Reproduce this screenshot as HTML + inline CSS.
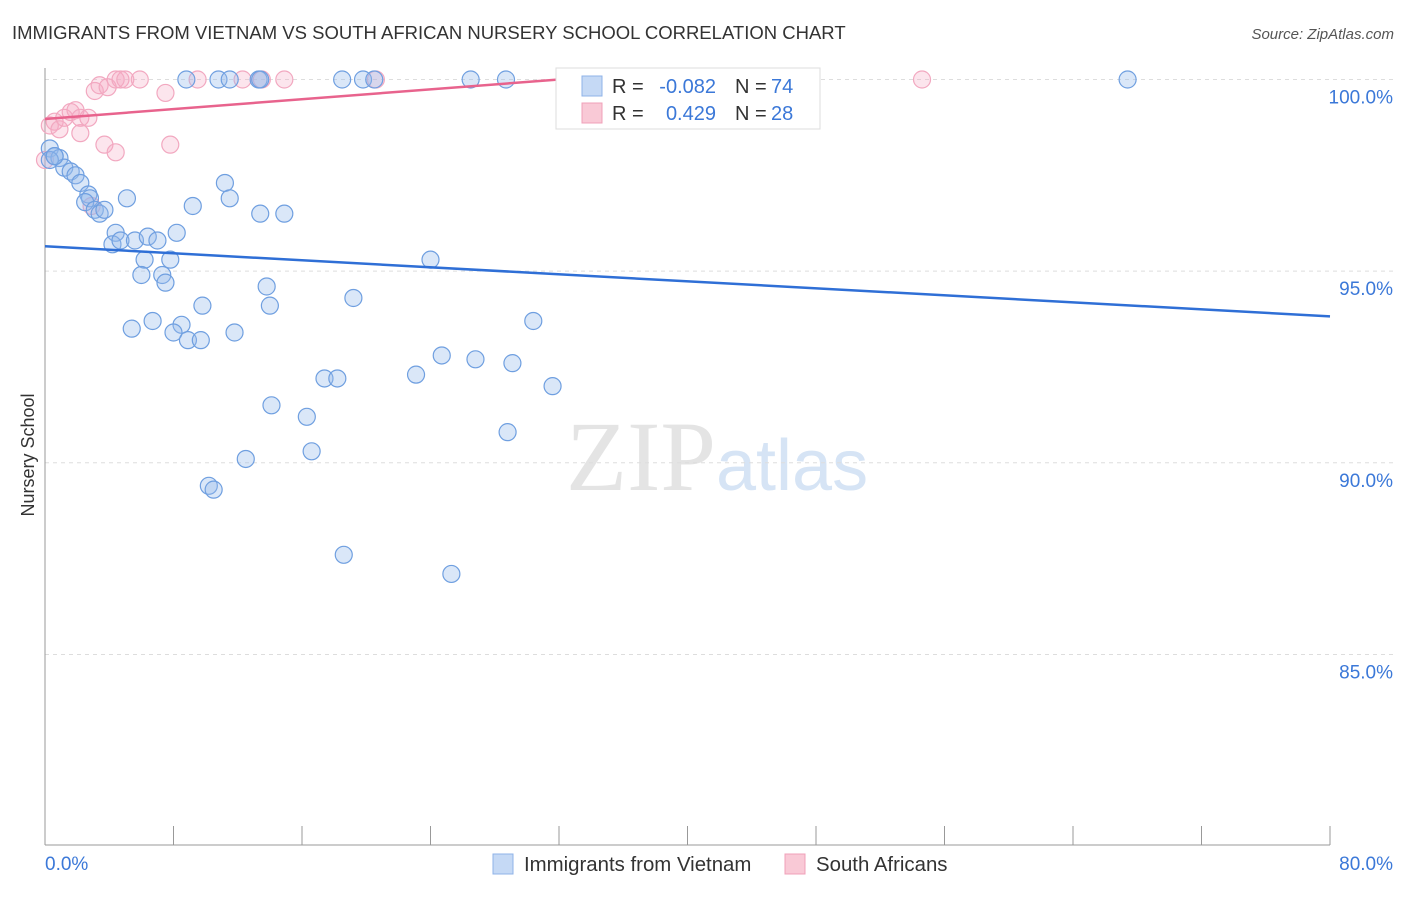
<!DOCTYPE html>
<html><head><meta charset="utf-8"><style>
body{margin:0;background:#fff;font-family:"Liberation Sans",sans-serif;}
</style></head><body>
<svg id="c" width="1406" height="892" xmlns="http://www.w3.org/2000/svg">
<text x="12" y="39" font-size="18.5" fill="#333">IMMIGRANTS FROM VIETNAM VS SOUTH AFRICAN NURSERY SCHOOL CORRELATION CHART</text>
<text x="1394" y="39" font-size="15" fill="#555" font-style="italic" text-anchor="end">Source: ZipAtlas.com</text>
<text x="716" y="490" font-size="100" fill="#e4e4e4" text-anchor="end" font-family="Liberation Serif">ZIP</text>
<text x="716" y="490" font-size="72" fill="#d6e4f5">atlas</text>
<g id="grid"></g><g id="pts"></g><g id="lines"></g>
<text transform="translate(34,455) rotate(-90)" font-size="18" fill="#333" text-anchor="middle">Nursery School</text>
<text x="45" y="870" font-size="19" fill="#3b78d8">0.0%</text>
<text x="1393" y="870" font-size="19" fill="#3b78d8" text-anchor="end">80.0%</text>
<g>
<rect x="556" y="68" width="264" height="61" fill="#fff" stroke="#ddd"/>
<rect x="582" y="76" width="20" height="20" fill="#c5d9f5" stroke="#8fb3e8"/>
<rect x="582" y="103" width="20" height="20" fill="#f9c9d6" stroke="#f0a0b8"/>
<text x="612" y="93" font-size="20" fill="#333">R =</text>
<text x="716" y="93" font-size="20" fill="#3b78d8" text-anchor="end">-0.082</text>
<text x="735" y="93" font-size="20" fill="#333">N =</text>
<text x="771" y="93" font-size="20" fill="#3b78d8">74</text>
<text x="612" y="120" font-size="20" fill="#333">R =</text>
<text x="716" y="120" font-size="20" fill="#3b78d8" text-anchor="end">0.429</text>
<text x="735" y="120" font-size="20" fill="#333">N =</text>
<text x="771" y="120" font-size="20" fill="#3b78d8">28</text>
</g>
<g>
<rect x="493" y="854" width="20" height="20" fill="#c5d9f5" stroke="#8fb3e8"/>
<text x="524" y="871" font-size="20.4" fill="#333">Immigrants from Vietnam</text>
<rect x="785" y="854" width="20" height="20" fill="#f9c9d6" stroke="#f0a0b8"/>
<text x="816" y="871" font-size="20.4" fill="#333">South Africans</text>
</g>
</svg>
<script>
const blueX=[0.3,0.6,0.9,1.2,1.6,1.9,2.2,2.7,2.8,2.5,3.1,3.4,3.7,5.1,4.4,4.2,4.7,5.6,6.4,7.0,8.2,9.2,11.2,11.5,13.4,14.9,6.2,7.8,7.3,7.5,6.0,5.4,6.7,8.5,8.0,8.9,9.7,9.8,11.8,13.8,14.0,19.2,24.0,30.4,24.7,26.8,29.1,23.1,17.4,18.2,31.6,14.1,16.3,16.6,12.5,28.8,10.2,10.5,18.6,25.3,8.8,10.8,11.5,13.3,13.4,18.5,19.8,20.5,26.5,28.7,43.2,67.4,0.3,0.6];
const blueY=[98.2,98.0,97.95,97.7,97.6,97.5,97.3,97.0,96.9,96.8,96.6,96.5,96.6,96.9,96.0,95.7,95.8,95.8,95.9,95.8,96.0,96.7,97.3,96.9,96.5,96.5,95.3,95.3,94.9,94.7,94.9,93.5,93.7,93.6,93.4,93.2,93.2,94.1,93.4,94.6,94.1,94.3,95.3,93.7,92.8,92.7,92.6,92.3,92.2,92.2,92.0,91.5,91.2,90.3,90.1,90.8,89.4,89.3,87.6,87.1,100,100,100,100,100,100,100,100,100,100,100,100,97.9,98.0];
const pinkX=[0.3,0.6,0.9,1.2,1.6,1.9,2.2,2.7,2.2,3.7,4.4,7.8,3.1,3.4,3.9,4.4,4.7,5.0,5.9,7.5,9.5,12.3,13.5,14.9,20.6,54.6,0.0,2.9];
const pinkY=[98.8,98.9,98.7,99.0,99.15,99.2,99.0,99.0,98.6,98.3,98.1,98.3,99.7,99.85,99.8,100,100,100,100,99.65,100,100,100,100,100,100,97.9,96.7];
const yTicks=[100,95,90,85];
const blueTrend=[[0,95.65],[80,93.82]];
const pinkTrend=[[0,98.97],[32,100]];
const NS="http://www.w3.org/2000/svg";
const sx=v=>45+v/80*1285, sy=v=>79.5+(100-v)*38.33;
function mk(t,a,p){const e=document.createElementNS(NS,t);for(const k in a)e.setAttribute(k,a[k]);p.appendChild(e);return e;}
const g=document.getElementById('grid');
yTicks.forEach(t=>{const l=mk('line',{x1:45,x2:1393,y1:sy(t),y2:sy(t),stroke:'#ddd','stroke-dasharray':'4,4'},g);


const tx=mk('text',{x:1393,y:sy(t)+24,'font-size':19,fill:'#3b78d8','text-anchor':'end'},g);tx.textContent=t.toFixed(1)+'%';

});
mk('line',{x1:45,x2:45,y1:68,y2:845,stroke:'#999'},g);
mk('line',{x1:45,x2:1330,y1:845,y2:845,stroke:'#999'},g);
for(let i=0;i<=10;i++){const l=mk('line',{x1:sx(i*8),x2:sx(i*8),y1:826,y2:845,stroke:'#999'},g);

}
const p=document.getElementById('pts');
pinkX.forEach((x,i)=>{const c=mk('circle',{cx:sx(x),cy:sy(pinkY[i]),r:8.5,fill:'rgba(244,170,195,0.3)',stroke:'#f2a8c0','stroke-width':1.2},p);

});
blueX.forEach((x,i)=>{const c=mk('circle',{cx:sx(x),cy:sy(blueY[i]),r:8.5,fill:'rgba(150,185,235,0.35)',stroke:'#6f9fe0','stroke-width':1.2},p);

});
const L=document.getElementById('lines');
const b=mk('line',{x1:sx(blueTrend[0][0]),y1:sy(blueTrend[0][1]),x2:sx(blueTrend[1][0]),y2:sy(blueTrend[1][1]),stroke:'#2f6fd6','stroke-width':2.5},L);


const k=mk('line',{x1:sx(pinkTrend[0][0]),y1:sy(pinkTrend[0][1]),x2:sx(pinkTrend[1][0]),y2:sy(pinkTrend[1][1]),stroke:'#e8638d','stroke-width':2.5},L);


</script>
</body></html>
